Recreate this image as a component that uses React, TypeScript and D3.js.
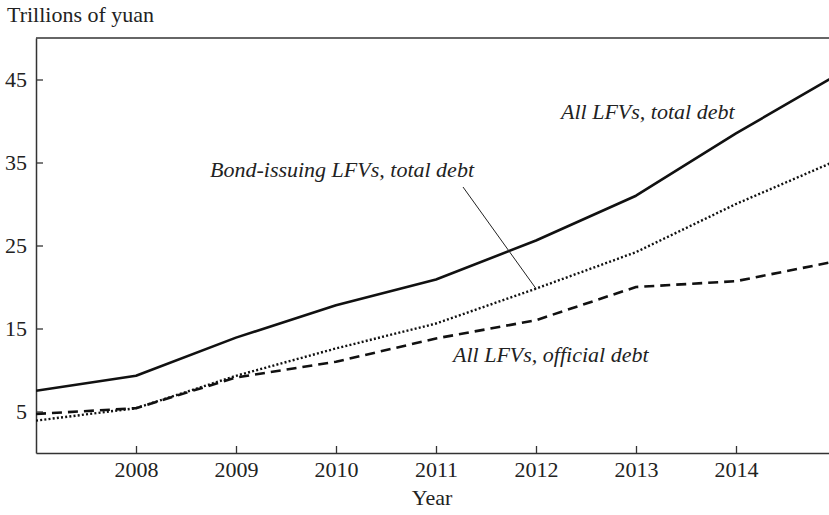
import React, { useEffect, useRef } from "react";
import * as d3 from "d3";

const years = [2007, 2008, 2009, 2010, 2011, 2012, 2013, 2014, 2015];
const allTotal = [7.5, 9.3, 13.9, 17.8, 20.9, 25.6, 31.0, 38.5, 45.5];
const bondTotal = [3.9, 5.4, 9.3, 12.6, 15.6, 19.8, 24.2, 30.0, 35.2];
const allOfficial = [4.7, 5.4, 9.1, 11.0, 13.8, 16.0, 20.0, 20.7, 23.1];
const xTicks = [2008, 2009, 2010, 2011, 2012, 2013, 2014];
const yTicks = [5, 15, 25, 35, 45];

const W = 829;
const H = 515;
const left = 36;
const right = 836;
const top = 38;
const bottom = 453;
const FONT = "'Liberation Serif', 'Times New Roman', serif";

export default function App() {
  const xRef = useRef<SVGGElement>(null);
  const yRef = useRef<SVGGElement>(null);

  const x = d3.scaleLinear().domain([2007, 2015]).range([left, right]);
  const y = d3.scaleLinear().domain([0, 50]).range([bottom, top]);

  useEffect(() => {
    const xa = d3
      .axisBottom(x)
      .tickValues(xTicks)
      .tickFormat((d) => String(d))
      .tickSizeInner(-7)
      .tickSizeOuter(0)
      .tickPadding(8);
    const ya = d3
      .axisLeft(y)
      .tickValues(yTicks)
      .tickFormat((d) => String(d))
      .tickSizeInner(-7)
      .tickSizeOuter(0)
      .tickPadding(9);
    const gx = d3.select(xRef.current!);
    gx.call(xa as any);
    const gy = d3.select(yRef.current!);
    gy.call(ya as any);
    [gx, gy].forEach((g) => {
      g.attr("font-family", FONT).attr("font-size", 22);
      g.selectAll("path").attr("stroke", "#333").attr("stroke-width", 1.5);
      g.selectAll("line").attr("stroke", "#333").attr("stroke-width", 1.3);
      g.selectAll("text").attr("fill", "#222");
    });
  }, []);

  const line = (vals: number[]) =>
    d3
      .line<number>()
      .x((_, i) => x(years[i]))
      .y((v) => y(v))(vals) || "";

  return (
    <svg
      width={W}
      height={H}
      style={{ position: "absolute", left: 0, top: 0, background: "#fff" }}
    >
      <defs>
        <clipPath id="plot">
          <rect x={left} y={top} width={W - left} height={bottom - top} />
        </clipPath>
      </defs>
      <rect x={0} y={0} width={W} height={H} fill="#fff" />
      <text x={7} y={22} fontFamily={FONT} fontSize={22} fill="#222">
        Trillions of yuan
      </text>
      <line x1={left} x2={W} y1={top} y2={top} stroke="#333" strokeWidth={1.5} />
      <g ref={xRef} transform={`translate(0,${bottom})`} />
      <g ref={yRef} transform={`translate(${left},0)`} />
      <g clipPath="url(#plot)" fill="none" stroke="#111" strokeLinejoin="round">
        <path d={line(allTotal)} strokeWidth={2.6} />
        <path d={line(bondTotal)} strokeWidth={2.4} strokeDasharray="2 2.2" />
        <path d={line(allOfficial)} strokeWidth={2.6} strokeDasharray="10 6" />
      </g>
      <line x1={463} y1={187} x2={x(2012)} y2={y(bondTotal[5])} stroke="#222" strokeWidth={1} />
      <g fontFamily={FONT} fontSize={22} fontStyle="italic" fill="#222">
        <text x={561} y={119}>All LFVs, total debt</text>
        <text x={210} y={177}>Bond-issuing LFVs, total debt</text>
        <text x={453} y={362}>All LFVs, official debt</text>
      </g>
      <text x={432} y={505} textAnchor="middle" fontFamily={FONT} fontSize={22} fill="#222">
        Year
      </text>
    </svg>
  );
}
